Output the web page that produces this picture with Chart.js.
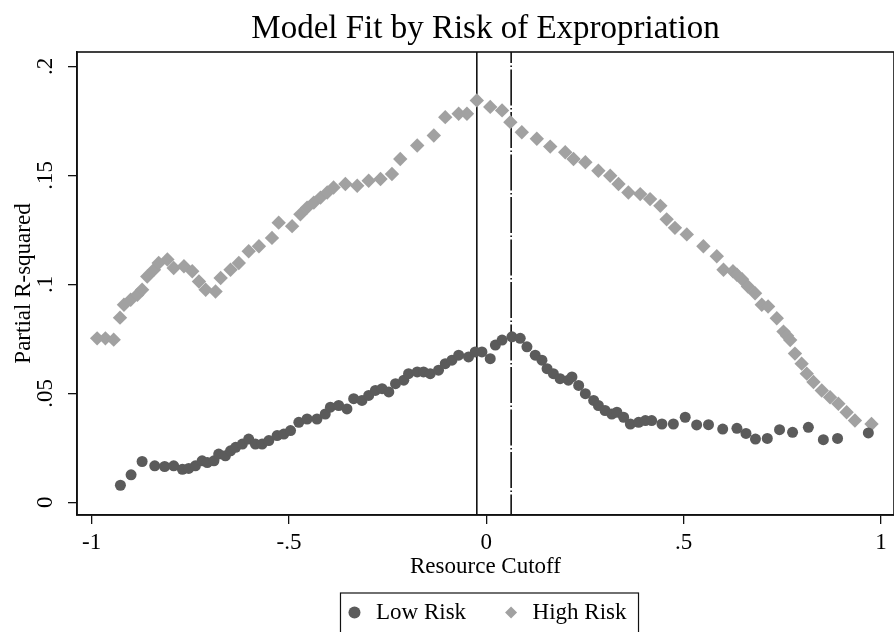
<!DOCTYPE html>
<html>
<head>
<meta charset="utf-8">
<script src="https://cdn.jsdelivr.net/npm/chart.js@4/dist/chart.umd.min.js"></script>
<style>
  body { margin: 0; background: #fff; }
  canvas { display: block; }
</style>
</head>
<body>
<canvas id="myChart" width="894" height="632"></canvas>
<script>
// valores
const lowX = [-0.927, -0.900, -0.872, -0.840, -0.815, -0.792, -0.770, -0.754, -0.737, -0.720,
  -0.707, -0.690, -0.678, -0.661, -0.648, -0.635, -0.618, -0.602, -0.585, -0.568,
  -0.551, -0.530, -0.513, -0.496, -0.475, -0.454, -0.429, -0.408, -0.395, -0.374,
  -0.353, -0.336, -0.315, -0.298, -0.281, -0.264, -0.247, -0.230, -0.209, -0.197,
  -0.175, -0.159, -0.142, -0.121, -0.104, -0.087, -0.070, -0.045, -0.028, -0.011,
  0.010, 0.023, 0.040, 0.065, 0.086, 0.103, 0.124, 0.141, 0.154, 0.170,
  0.187, 0.208, 0.217, 0.234, 0.251, 0.272, 0.284, 0.301, 0.318, 0.331,
  0.348, 0.365, 0.386, 0.403, 0.419, 0.445, 0.474, 0.504, 0.533, 0.563,
  0.599, 0.635, 0.658, 0.682, 0.712, 0.743, 0.776, 0.816, 0.854, 0.890, 0.968];
const lowY = [0.0078, 0.0126, 0.0187, 0.0167, 0.0164, 0.0167, 0.0151, 0.0155, 0.0167, 0.0190,
  0.0182, 0.0190, 0.0221, 0.0213, 0.0236, 0.0252, 0.0267, 0.0290, 0.0267, 0.0267,
  0.0283, 0.0306, 0.0313, 0.0329, 0.0367, 0.0382, 0.0382, 0.0405, 0.0436, 0.0444,
  0.0428, 0.0475, 0.0467, 0.0490, 0.0513, 0.0521, 0.0506, 0.0544, 0.0560, 0.0590,
  0.0598, 0.0598, 0.0590, 0.0606, 0.0636, 0.0652, 0.0675, 0.0667, 0.0690, 0.0690,
  0.0659, 0.0721, 0.0744, 0.0759, 0.0752, 0.0713, 0.0675, 0.0652, 0.0613, 0.0590,
  0.0567, 0.0560, 0.0575, 0.0536, 0.0498, 0.0467, 0.0444, 0.0421, 0.0405, 0.0413,
  0.0390, 0.0359, 0.0367, 0.0375, 0.0375, 0.0359, 0.0359, 0.0390, 0.0355, 0.0356,
  0.0336, 0.0339, 0.0316, 0.0290, 0.0293, 0.0333, 0.0321, 0.0344, 0.0287, 0.0293, 0.0318];

const highX = [-0.986, -0.965, -0.944, -0.928, -0.918, -0.901, -0.884, -0.872, -0.859, -0.842,
  -0.830, -0.808, -0.792, -0.766, -0.745, -0.728, -0.711, -0.686, -0.673, -0.648,
  -0.627, -0.602, -0.576, -0.543, -0.526, -0.492, -0.471, -0.454, -0.437, -0.420,
  -0.403, -0.387, -0.357, -0.327, -0.298, -0.268, -0.239, -0.218, -0.175, -0.133,
  -0.104, -0.070, -0.049, -0.024, 0.010, 0.040, 0.061, 0.090, 0.128, 0.162,
  0.200, 0.221, 0.251, 0.284, 0.314, 0.335, 0.360, 0.390, 0.415, 0.441,
  0.457, 0.478, 0.508, 0.550, 0.584, 0.601, 0.625, 0.635, 0.648, 0.663,
  0.681, 0.698, 0.714, 0.736, 0.753, 0.762, 0.770, 0.782, 0.799, 0.812,
  0.829, 0.850, 0.871, 0.892, 0.913, 0.934, 0.976];
const highY = [0.0752, 0.0752, 0.0746, 0.0847, 0.0906, 0.0929, 0.0952, 0.0975, 0.1036, 0.1067,
  0.1098, 0.1114, 0.1075, 0.1083, 0.1060, 0.1013, 0.0975, 0.0967, 0.1029, 0.1067,
  0.1098, 0.1152, 0.1175, 0.1213, 0.1283, 0.1267, 0.1321, 0.1352, 0.1375, 0.1398,
  0.1421, 0.1444, 0.1460, 0.1452, 0.1475, 0.1483, 0.1506, 0.1575, 0.1637, 0.1683,
  0.1767, 0.1783, 0.1783, 0.1844, 0.1814, 0.1798, 0.1744, 0.1698, 0.1668, 0.1632,
  0.1606, 0.1575, 0.1560, 0.1521, 0.1498, 0.1460, 0.1421, 0.1414, 0.1391, 0.1360,
  0.1298, 0.1259, 0.1229, 0.1175, 0.1129, 0.1067, 0.1060, 0.1044, 0.1023, 0.0990,
  0.0959, 0.0906, 0.0898, 0.0844, 0.0783, 0.0764, 0.0744, 0.0682, 0.0636, 0.0590,
  0.0552, 0.0513, 0.0482, 0.0452, 0.0413, 0.0375, 0.0359];

const xTicks = [-1, -0.5, 0, 0.5, 1];
const xTickLabels = ['-1', '-.5', '0', '.5', '1'];
const yTicks = [0, 0.05, 0.1, 0.15, 0.2];
const yTickLabels = ['0', '.05', '.1', '.15', '.2'];

// linhas verticais (cortes)
const solidCutoff = -0.024;
const dashCutoff = 0.063;

const serif = "'Liberation Serif', 'Times New Roman', serif";
Chart.defaults.font.family = serif;
Chart.defaults.color = '#000';

const toPoints = (xs, ys) => xs.map((x, i) => ({ x: x, y: ys[i] }));

// desenha as linhas verticais e a moldura
const extras = {
  id: 'extras',
  beforeLayout(chart) {
    const lg = chart.legend;
    if (lg && !lg._patched) {
      lg._patched = true;
      const fit = lg.fit;
      lg.fit = function () { fit.call(this); this.height = 66; };
    }
  },
  beforeDatasetsDraw(chart) {
    const { ctx, chartArea } = chart;
    const xs = chart.scales.x;
    ctx.save();
    ctx.strokeStyle = '#111';
    ctx.lineWidth = 1.6;
    let px = xs.getPixelForValue(solidCutoff);
    ctx.beginPath();
    ctx.moveTo(px, chartArea.top);
    ctx.lineTo(px, chartArea.bottom);
    ctx.stroke();
    px = xs.getPixelForValue(dashCutoff);
    ctx.setLineDash([36, 2.5, 1.5, 2.5]);
    ctx.lineDashOffset = 25;
    ctx.beginPath();
    ctx.moveTo(px, chartArea.top);
    ctx.lineTo(px, chartArea.bottom);
    ctx.stroke();
    ctx.restore();
  },
  afterDraw(chart) {
    const { ctx, chartArea } = chart;
    ctx.save();
    ctx.strokeStyle = '#111';
    ctx.lineWidth = 1.6;
    ctx.strokeRect(chartArea.left, chartArea.top, chartArea.right - chartArea.left, chartArea.bottom - chartArea.top);
    // caixa da legenda
    const hb = chart.legend.legendHitBoxes;
    if (hb && hb.length) {
      const l = hb[0].left - 4;
      const r = hb[hb.length - 1].left + hb[hb.length - 1].width + 12;
      const t = hb[0].top - 8;
      ctx.lineWidth = 1.2;
      ctx.strokeRect(l, t, r - l, 60);
    }
    ctx.restore();
  }
};

const ctx = document.getElementById('myChart').getContext('2d');

const chart = new Chart(ctx, {
  type: 'scatter',
  data: {
    datasets: [{
      label: 'Low Risk',
      data: toPoints(lowX, lowY),
      pointStyle: 'circle',
      pointRadius: 5.5,
      backgroundColor: '#5b5b5b',
      borderColor: '#5b5b5b',
      borderWidth: 0
    }, {
      label: 'High Risk',
      data: toPoints(highX, highY),
      pointStyle: 'rectRot',
      pointRadius: 7.2,
      backgroundColor: '#a1a1a1',
      borderColor: '#a1a1a1',
      borderWidth: 0
    }]
  },
  options: {
    responsive: false,
    animation: false,
    events: [],
    layout: { padding: 0, autoPadding: false },
    scales: {
      x: {
        type: 'linear',
        min: -1.037,
        max: 1.033,
        afterBuildTicks: s => { s.ticks = xTicks.map(v => ({ value: v })); },
        afterFit: s => { s.height = 51; s.paddingLeft = 0; s.paddingRight = 0; },
        ticks: {
          padding: 5,
          font: { size: 23 },
          color: '#000',
          callback: (v) => xTickLabels[xTicks.indexOf(v)]
        },
        grid: { display: true, drawOnChartArea: false, drawTicks: true, tickLength: 9, color: '#111', lineWidth: 1.3 },
        border: { display: true, color: '#111', width: 1.6 },
        title: { display: true, text: 'Resource Cutoff', font: { size: 23 }, color: '#000', padding: { top: 0, bottom: -15 } }
      },
      y: {
        type: 'linear',
        min: -0.00585,
        max: 0.2066,
        afterBuildTicks: s => { s.ticks = yTicks.map(v => ({ value: v })); },
        afterFit: s => { s.width = 77; s.paddingTop = 0; s.paddingBottom = 0; },
        ticks: {
          padding: 8,
          minRotation: 90,
          maxRotation: 90,
          crossAlign: 'center',
          font: { size: 23 },
          color: '#000',
          callback: (v) => yTickLabels[yTicks.indexOf(v)]
        },
        grid: { display: true, drawOnChartArea: false, drawTicks: true, tickLength: 9, color: '#111', lineWidth: 1.3 },
        border: { display: true, color: '#111', width: 1.6 },
        title: { display: true, text: 'Partial R-squared', font: { size: 23 }, color: '#000', padding: { top: 10, bottom: 0 } }
      }
    },
    plugins: {
      title: {
        display: true,
        text: 'Model Fit by Risk of Expropriation',
        fullSize: false,
        font: { size: 33, weight: 'normal' },
        color: '#000',
        padding: { top: 10, bottom: 2.4 }
      },
      legend: {
        display: true,
        position: 'bottom',
        fullSize: false,
        labels: {
          usePointStyle: true,
          boxWidth: 20,
          boxHeight: 8.5,
          padding: 35,
          font: { size: 23 },
          color: '#000'
        }
      },
      tooltip: { enabled: false }
    }
  },
  plugins: [extras]
});
</script>
</body>
</html>
